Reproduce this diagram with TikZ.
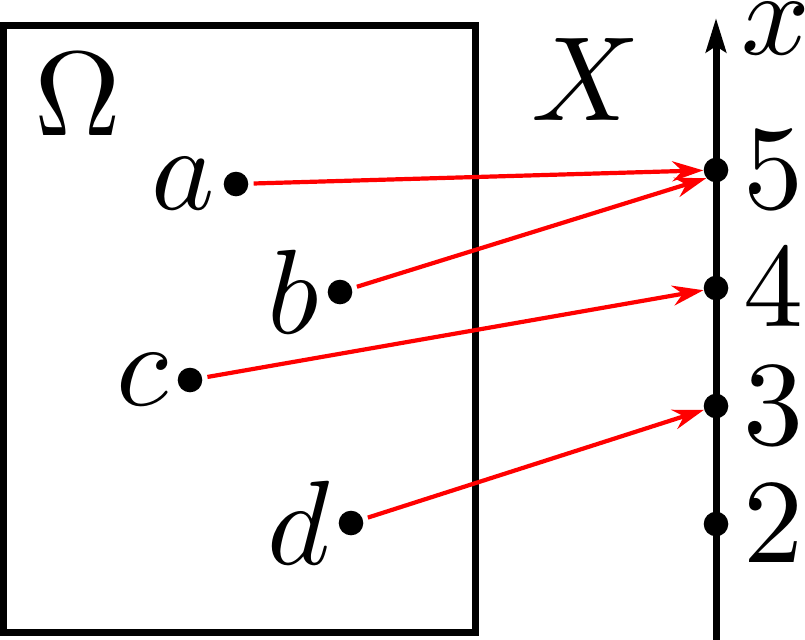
\documentclass[tikz,border=0pt]{standalone}
\usepackage{graphicx}
\usetikzlibrary{arrows.meta}
\newcommand{\bigtxt}[1]{\scalebox{6}{$#1$}}
\begin{document}
\begin{tikzpicture}[x=0.5pt,y=-0.5pt,
  dot/.style={circle,fill=black,inner sep=0pt,minimum size=12.3pt},
  lab/.style={inner sep=0pt},
  map/.style={red,line width=2.1pt,-{Stealth[length=15.5pt,width=10pt,inset=5pt]},shorten <=2.5pt},
]
\useasboundingbox (0,0) rectangle (805,639);
\draw[line width=3.75pt] (3.5,25.5) rectangle (475.5,632.5);
\coordinate (axbot) at (716,645);
\coordinate (axtop) at (716,18);
\draw[line width=3.5pt,-{Stealth[length=17pt,width=10pt,inset=3pt]}] (axbot) -- (axtop);
\node[dot] (a) at (236,184) {};
\node[dot] (b) at (340,292) {};
\node[dot] (c) at (190,380) {};
\node[dot] (d) at (351,523) {};
\node[dot] (n5) at (716,170) {};
\node[dot] (n4) at (716,288) {};
\node[dot] (n3) at (716,406) {};
\node[dot] (n2) at (716,524) {};
\node[lab,anchor=east,xshift=-4pt] (la) at (a.west) {\bigtxt{a}};
\node[lab,anchor=east,xshift=-4pt] (lb) at (b.west) {\bigtxt{b}};
\node[lab,anchor=east,xshift=-4pt] (lc) at (c.west) {\bigtxt{c}};
\node[lab,anchor=east,xshift=-4pt] (ld) at (d.west) {\bigtxt{d}};
\node[lab,anchor=west,xshift=7pt] (l5) at (n5.east) {\bigtxt{5}};
\node[lab,anchor=west,xshift=7pt] (l4) at (n4.east) {\bigtxt{4}};
\node[lab,anchor=west,xshift=7pt] (l3) at (n3.east) {\bigtxt{3}};
\node[lab,anchor=west,xshift=7pt] (l2) at (n2.east) {\bigtxt{2}};
\node[lab,anchor=base] (om) at (78,135) {\bigtxt{\Omega}};
\node[lab,anchor=base] (X) at (586,120) {\bigtxt{X}};
\node[lab,anchor=base] (xl) at (776,54) {\bigtxt{x}};
\draw[map] (a) -- (n5);
\draw[map] (b) -- (n5.220);
\draw[map] (c) -- (n4);
\draw[map] (d) -- (n3);
\end{tikzpicture}
\end{document}
